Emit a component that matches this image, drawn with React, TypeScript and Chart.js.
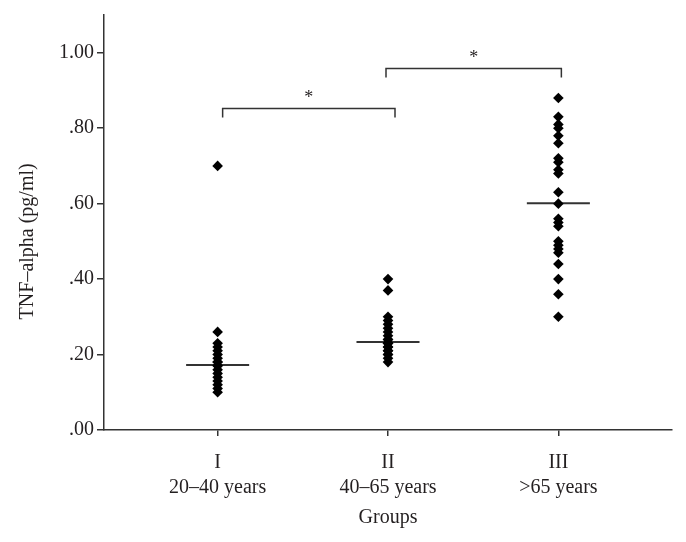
import React, { useEffect, useRef } from "react";
import { Chart, registerables } from "chart.js";

Chart.register(...registerables);

// ---- data ----
const groupPositions = [1, 2, 3];
const groupTickLabels = [
  ["I", "20–40 years"],
  ["II", "40–65 years"],
  ["III", ">65 years"],
];
const groupI = [0.7, 0.26, 0.23, 0.22, 0.21, 0.2, 0.19, 0.18, 0.18, 0.17, 0.17, 0.16, 0.15, 0.14, 0.13, 0.12, 0.11, 0.1];
const groupII = [0.4, 0.37, 0.3, 0.29, 0.28, 0.27, 0.26, 0.25, 0.24, 0.24, 0.23, 0.23, 0.23, 0.22, 0.22, 0.21, 0.21, 0.2, 0.2, 0.19, 0.18];
const groupIII = [0.88, 0.83, 0.81, 0.8, 0.78, 0.76, 0.72, 0.71, 0.69, 0.68, 0.63, 0.6, 0.56, 0.55, 0.54, 0.5, 0.49, 0.48, 0.47, 0.44, 0.4, 0.36, 0.3];
const medians = [0.172, 0.233, 0.601];
const yTicks = [0, 0.2, 0.4, 0.6, 0.8, 1.0];
const yTickLabels = [".00", ".20", ".40", ".60", ".80", "1.00"];
const bracketPairs = [
  [1, 2],
  [2, 3],
];
const bracketLevels = [0.852, 0.958];
const bracketMark = "*";
const yTitle = "TNF–alpha (pg/ml)";
const xTitle = "Groups";

// ---- styles ----
const FONT = "'Liberation Serif', 'Times New Roman', serif";
const INK = "#231f20";
const AXIS = "#333333";
const MEDIAN_HALF = 0.185;

export default function App() {
  const ref = useRef<HTMLCanvasElement | null>(null);

  useEffect(() => {
    if (!ref.current) return;
    const allGroups = [groupI, groupII, groupIII];

    const pointSets = allGroups.map((vals, i) => ({
      type: "scatter" as const,
      data: vals.map((v) => ({ x: groupPositions[i], y: v })),
      pointStyle: "rectRot",
      pointRadius: 5.3,
      pointHoverRadius: 5.3,
      backgroundColor: "#000",
      borderColor: "#000",
      borderWidth: 0,
      showLine: false,
    }));

    const medianSets = medians.map((m, i) => ({
      type: "line" as const,
      data: [
        { x: groupPositions[i] - MEDIAN_HALF, y: m },
        { x: groupPositions[i] + MEDIAN_HALF, y: m },
      ],
      borderColor: AXIS,
      borderWidth: 2,
      pointRadius: 0,
      fill: false,
    }));

    const overlay = {
      id: "overlay",
      afterDraw(chart: any) {
        const { ctx, scales, chartArea } = chart;
        const xs = scales.x;
        const ys = scales.y;
        ctx.save();
        // brackets
        ctx.strokeStyle = AXIS;
        ctx.lineWidth = 1.5;
        bracketPairs.forEach((pair, i) => {
          const x1 = xs.getPixelForValue(pair[0]) + (i === 0 ? 5 : -2);
          const x2 = xs.getPixelForValue(pair[1]) + (i === 0 ? 7 : 3);
          const y = ys.getPixelForValue(bracketLevels[i]);
          ctx.beginPath();
          ctx.moveTo(x1, y + 9);
          ctx.lineTo(x1, y);
          ctx.lineTo(x2, y);
          ctx.lineTo(x2, y + 9);
          ctx.stroke();
          ctx.fillStyle = INK;
          ctx.font = `18px ${FONT}`;
          ctx.textAlign = "center";
          ctx.textBaseline = "middle";
          ctx.fillText(bracketMark, (x1 + x2) / 2, y - 10);
        });
        // axis titles
        ctx.fillStyle = INK;
        ctx.font = `20px ${FONT}`;
        ctx.textAlign = "center";
        ctx.textBaseline = "middle";
        ctx.fillText(xTitle, (chartArea.left + chartArea.right) / 2, 518);
        const yc = (ys.getPixelForValue(0) + ys.getPixelForValue(1)) / 2;
        ctx.translate(28, yc);
        ctx.rotate(-Math.PI / 2);
        ctx.fillText(yTitle, 0, 0);
        ctx.restore();
      },
    };

    const chart = new Chart(ref.current, {
      type: "scatter",
      data: { datasets: [...pointSets, ...medianSets] as any },
      plugins: [overlay],
      options: {
        animation: false,
        responsive: false,
        maintainAspectRatio: false,
        layout: { padding: { left: 0, right: 14, top: 13, bottom: 0 } },
        plugins: {
          legend: { display: false },
          tooltip: { enabled: false },
          title: { display: false },
        },
        scales: {
          x: {
            type: "linear",
            min: 0.333,
            max: 3.667,
            afterBuildTicks: (scale: any) => {
              scale.ticks = groupPositions.map((v) => ({ value: v }));
            },
            afterFit: (scale: any) => {
              scale.height = 112;
            },
            ticks: {
              autoSkip: false,
              maxRotation: 0,
              padding: 14,
              color: INK,
              font: { family: FONT, size: 20, lineHeight: 1.25 },
              callback: (v: any) => {
                const i = groupPositions.indexOf(Number(v));
                return i >= 0 ? groupTickLabels[i] : "";
              },
            },
            grid: {
              drawOnChartArea: false,
              drawTicks: true,
              tickLength: 6,
              color: AXIS,
              lineWidth: 1.5,
            },
            border: { display: true, color: AXIS, width: 1.5 },
          },
          y: {
            type: "linear",
            min: 0,
            max: 1.1,
            afterBuildTicks: (scale: any) => {
              scale.ticks = yTicks.map((v) => ({ value: v }));
            },
            afterFit: (scale: any) => {
              scale.width = 104;
            },
            ticks: {
              autoSkip: false,
              padding: 3,
              color: INK,
              font: { family: FONT, size: 20 },
              callback: (v: any) => {
                const i = yTicks.findIndex((t) => Math.abs(t - Number(v)) < 1e-6);
                return i >= 0 ? yTickLabels[i] : "";
              },
            },
            grid: {
              drawOnChartArea: false,
              drawTicks: true,
              tickLength: 7,
              color: AXIS,
              lineWidth: 1.5,
            },
            border: { display: true, color: AXIS, width: 1.5 },
          },
        },
      },
    });
    return () => chart.destroy();
  }, []);

  return (
    <div style={{ position: "fixed", left: 0, top: 0, width: 686, height: 542, background: "#fff" }}>
      <canvas ref={ref} width={686} height={542} style={{ width: 686, height: 542, display: "block" }} />
    </div>
  );
}
